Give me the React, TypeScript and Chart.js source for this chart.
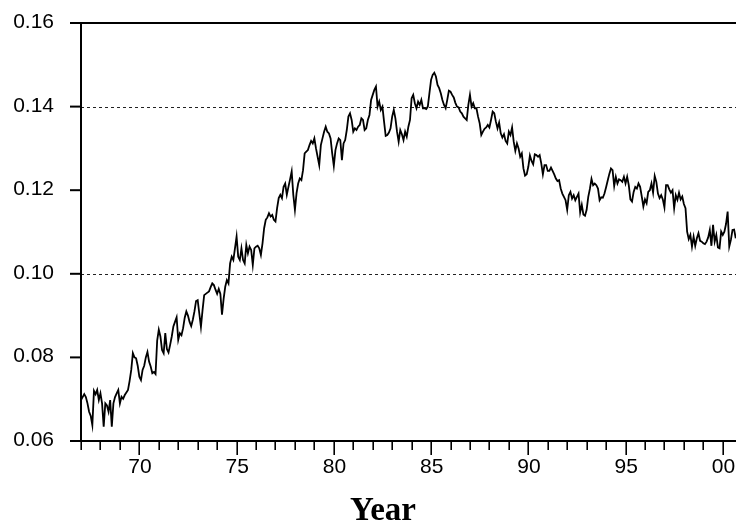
import React, { useEffect, useRef } from "react";
import { Chart, registerables } from "chart.js";

Chart.register(...registerables);

// Monthly values, January 1967 onward
const START_YEAR = 1967;
const rates1967to1972 = [
  0.0698, 0.0705, 0.0712, 0.0705, 0.069, 0.067, 0.066, 0.0638, 0.072, 0.0712, 0.0722, 0.0698,
  0.0714, 0.069, 0.0634, 0.069, 0.0685, 0.067, 0.0698, 0.0634, 0.069, 0.0705, 0.0714, 0.0722,
  0.069, 0.0706, 0.0701, 0.071, 0.0716, 0.0722, 0.0744, 0.077, 0.081, 0.08, 0.0798, 0.078,
  0.0754, 0.0746, 0.077, 0.078, 0.08, 0.0813, 0.079, 0.0778, 0.0762, 0.0765, 0.076, 0.084,
  0.0866, 0.085, 0.0818, 0.081, 0.0858, 0.082, 0.0812, 0.083, 0.085, 0.0874, 0.0885, 0.0896,
  0.0842, 0.0858, 0.0853, 0.087, 0.0895, 0.091, 0.09, 0.0885, 0.0875, 0.089, 0.091, 0.0935,
];
const rates1973to1979 = [
  0.0937, 0.0905, 0.0873, 0.0913, 0.0949, 0.0952, 0.0955, 0.0958, 0.0968, 0.0977, 0.0973, 0.0962,
  0.0952, 0.0964, 0.0952, 0.0902, 0.094, 0.0969, 0.0985, 0.0977, 0.1025, 0.1041, 0.1033, 0.1061,
  0.1089, 0.1041, 0.1033, 0.1061, 0.1033, 0.1025, 0.1069, 0.1049, 0.1065, 0.1057, 0.1021, 0.1061,
  0.1065, 0.1067, 0.1061, 0.1045, 0.1073, 0.1109, 0.1129, 0.1135, 0.1145, 0.1137, 0.1141, 0.1129,
  0.1125, 0.1157, 0.1181, 0.1189, 0.1181, 0.1208, 0.1216, 0.1189, 0.1208, 0.1226, 0.1245, 0.1189,
  0.1153, 0.1193, 0.1216, 0.1228, 0.1224, 0.1248, 0.1288, 0.1292, 0.1296, 0.1308, 0.1318, 0.1312,
  0.1324, 0.13, 0.128, 0.126, 0.1308, 0.1324, 0.134, 0.1352, 0.134, 0.1336, 0.1324, 0.1288,
];
const rates1980to1986 = [
  0.1258, 0.1296, 0.1312, 0.1324, 0.132, 0.1272, 0.1312, 0.132, 0.1344, 0.1376, 0.1384, 0.1368,
  0.134, 0.1348, 0.1344, 0.1352, 0.1356, 0.1372, 0.1368, 0.1344, 0.1348, 0.1368, 0.138, 0.1416,
  0.1428, 0.144, 0.1448, 0.14, 0.1412, 0.1392, 0.14, 0.1364, 0.133, 0.1332, 0.1338, 0.1348,
  0.1376, 0.1392, 0.1372, 0.134, 0.1316, 0.1344, 0.1334, 0.132, 0.134, 0.1328, 0.1352, 0.1368,
  0.142, 0.1428, 0.1408, 0.1396, 0.1412, 0.1404, 0.1416, 0.1396, 0.1396, 0.1394, 0.14, 0.1432,
  0.1464, 0.1476, 0.1481, 0.1472, 0.1452, 0.1444, 0.1432, 0.1416, 0.1404, 0.1396, 0.1416, 0.1438,
  0.1436, 0.1428, 0.1422, 0.1409, 0.14, 0.1398, 0.1388, 0.1384, 0.1376, 0.1372, 0.1368, 0.1404,
];
const rates1987to1993 = [
  0.1428, 0.14, 0.1408, 0.1396, 0.1396, 0.1376, 0.136, 0.1332, 0.134, 0.1347, 0.135, 0.1356,
  0.135, 0.1368, 0.1388, 0.1384, 0.1364, 0.1348, 0.1362, 0.1336, 0.1326, 0.1334, 0.1318, 0.1312,
  0.134, 0.1332, 0.135, 0.1316, 0.1294, 0.1312, 0.13, 0.128, 0.1288, 0.1252, 0.1235, 0.1238,
  0.1256, 0.1283, 0.127, 0.1262, 0.1286, 0.1284, 0.128, 0.1284, 0.1264, 0.1238, 0.126, 0.126,
  0.1246, 0.1246, 0.1254, 0.1246, 0.1238, 0.1228, 0.1222, 0.1224, 0.1204, 0.1192, 0.1184, 0.1176,
  0.1153, 0.1188, 0.1196, 0.118, 0.1188, 0.1176, 0.1184, 0.1192, 0.1147, 0.1165, 0.1142, 0.1139,
  0.1153, 0.1184, 0.1203, 0.1227, 0.1212, 0.1216, 0.1212, 0.1204, 0.1176, 0.1183, 0.1182, 0.1192,
];
const rates1994to2000 = [
  0.1207, 0.1223, 0.1239, 0.1252, 0.1248, 0.121, 0.1232, 0.1216, 0.1226, 0.1224, 0.122, 0.1232,
  0.1216, 0.1232, 0.1212, 0.1178, 0.1173, 0.1196, 0.1208, 0.1204, 0.1216, 0.1208, 0.1185, 0.1161,
  0.1178, 0.1169, 0.1196, 0.12, 0.1216, 0.1194, 0.1234, 0.122, 0.1192, 0.1181, 0.1188, 0.1178,
  0.1159, 0.1212, 0.1212, 0.1202, 0.1194, 0.12, 0.1157, 0.1188, 0.1177, 0.1194, 0.1178, 0.1185,
  0.1167, 0.1157, 0.1101, 0.1083, 0.1093, 0.1065, 0.1089, 0.1067, 0.1085, 0.1097, 0.1079, 0.1077,
  0.1073, 0.1071, 0.1077, 0.1087, 0.1105, 0.1067, 0.1117, 0.1077, 0.1093, 0.1063, 0.1061, 0.1101,
  0.1093, 0.1101, 0.1119, 0.1149, 0.1065, 0.1081, 0.1105, 0.1106, 0.1085,
];

const yTicks = [0.06, 0.08, 0.1, 0.12, 0.14, 0.16];
const yTickLabels = ["0.06", "0.08", "0.10", "0.12", "0.14", "0.16"];
const gridValues = [0.1, 0.14];
const xTickYears = Array.from({ length: 34 }, (_, i) => START_YEAR + i); // 1967..2000
const xLabelYears = [1970, 1975, 1980, 1985, 1990, 1995, 2000];
const xTickLabels = ["70", "75", "80", "85", "90", "95", "00"];
const X_MIN = 1967;
const X_MAX = 2000.68;
const xTitle = "Year";

const allRates = [
  ...rates1967to1972,
  ...rates1973to1979,
  ...rates1980to1986,
  ...rates1987to1993,
  ...rates1994to2000,
];
const points = allRates.map((v, i) => ({ x: START_YEAR + i / 12, y: v }));

const TICK_FONT = '21px "Liberation Sans", Arial, sans-serif';

const axesPlugin = {
  id: "customAxes",
  beforeDatasetsDraw(chart: any) {
    const { ctx, chartArea, scales } = chart;
    const y = scales.y;
    ctx.save();
    ctx.strokeStyle = "#222";
    ctx.lineWidth = 1;
    ctx.setLineDash([3, 3]);
    for (const v of gridValues) {
      const py = Math.round(y.getPixelForValue(v)) + 0.5;
      ctx.beginPath();
      ctx.moveTo(chartArea.left, py);
      ctx.lineTo(chartArea.right, py);
      ctx.stroke();
    }
    ctx.restore();
  },
  afterDatasetsDraw(chart: any) {
    const { ctx, chartArea, scales } = chart;
    const x = scales.x;
    const y = scales.y;
    const { left, right, top, bottom } = chartArea;
    ctx.save();
    ctx.strokeStyle = "#000";
    ctx.lineCap = "butt";
    ctx.lineWidth = 2;
    ctx.beginPath();
    ctx.moveTo(left, top);
    ctx.lineTo(left, bottom);
    ctx.moveTo(left - 11, top);
    ctx.lineTo(right, top);
    ctx.moveTo(left - 11, bottom);
    ctx.lineTo(right, bottom);
    ctx.stroke();
    for (const v of yTicks) {
      const py = y.getPixelForValue(v);
      ctx.beginPath();
      ctx.moveTo(left - 11, py);
      ctx.lineTo(left, py);
      ctx.stroke();
    }
    ctx.lineWidth = 1.6;
    for (const yr of xTickYears) {
      const px = Math.round(x.getPixelForValue(yr)) + 0.2;
      const len = yr % 5 === 0 ? 14 : 9;
      ctx.beginPath();
      ctx.moveTo(px, bottom);
      ctx.lineTo(px, bottom + len);
      ctx.stroke();
    }
    // tick labels
    ctx.fillStyle = "#000";
    ctx.font = TICK_FONT;
    ctx.textBaseline = "alphabetic";
    ctx.textAlign = "right";
    yTicks.forEach((v, i) => {
      ctx.fillText(yTickLabels[i], left - 27, y.getPixelForValue(v) + 5);
    });
    ctx.textAlign = "center";
    xLabelYears.forEach((yr, i) => {
      ctx.fillText(xTickLabels[i], x.getPixelForValue(yr) + 0.7, bottom + 32);
    });
    ctx.restore();
  },
  afterDraw(chart: any) {
    const { ctx } = chart;
    ctx.save();
    ctx.fillStyle = "#000";
    ctx.font = 'bold 33px "Liberation Serif", "Times New Roman", serif';
    ctx.textAlign = "center";
    ctx.textBaseline = "alphabetic";
    ctx.fillText(xTitle, 383, 520);
    ctx.restore();
  },
};

export default function App() {
  const canvasRef = useRef<HTMLCanvasElement | null>(null);

  useEffect(() => {
    const canvas = canvasRef.current;
    if (!canvas) return;
    const chart = new Chart(canvas, {
      type: "line",
      data: {
        datasets: [
          {
            data: points,
            borderColor: "#000",
            borderWidth: 1.8,
            pointRadius: 0,
            tension: 0,
            fill: false,
          },
        ],
      },
      options: {
        animation: false,
        responsive: false,
        devicePixelRatio: 1,
        layout: { padding: { top: 23, right: 0, bottom: 0, left: 0 } },
        plugins: { legend: { display: false }, tooltip: { enabled: false } },
        scales: {
          x: {
            type: "linear",
            min: X_MIN,
            max: X_MAX,
            grid: { display: false, drawTicks: false, tickLength: 0 },
            border: { display: false },
            ticks: { display: false },
            afterFit: (scale: any) => {
              scale.height = 81;
            },
          },
          y: {
            type: "linear",
            min: 0.06,
            max: 0.16,
            grid: { display: false, drawTicks: false, tickLength: 0 },
            border: { display: false },
            ticks: { display: false },
            afterFit: (scale: any) => {
              scale.width = 81;
            },
          },
        },
      },
      plugins: [axesPlugin],
    });
    return () => chart.destroy();
  }, []);

  return (
    <div style={{ position: "absolute", left: 0, top: 0, width: 736, height: 522, background: "#fff" }}>
      <canvas ref={canvasRef} width={736} height={522} style={{ display: "block" }} />
    </div>
  );
}
